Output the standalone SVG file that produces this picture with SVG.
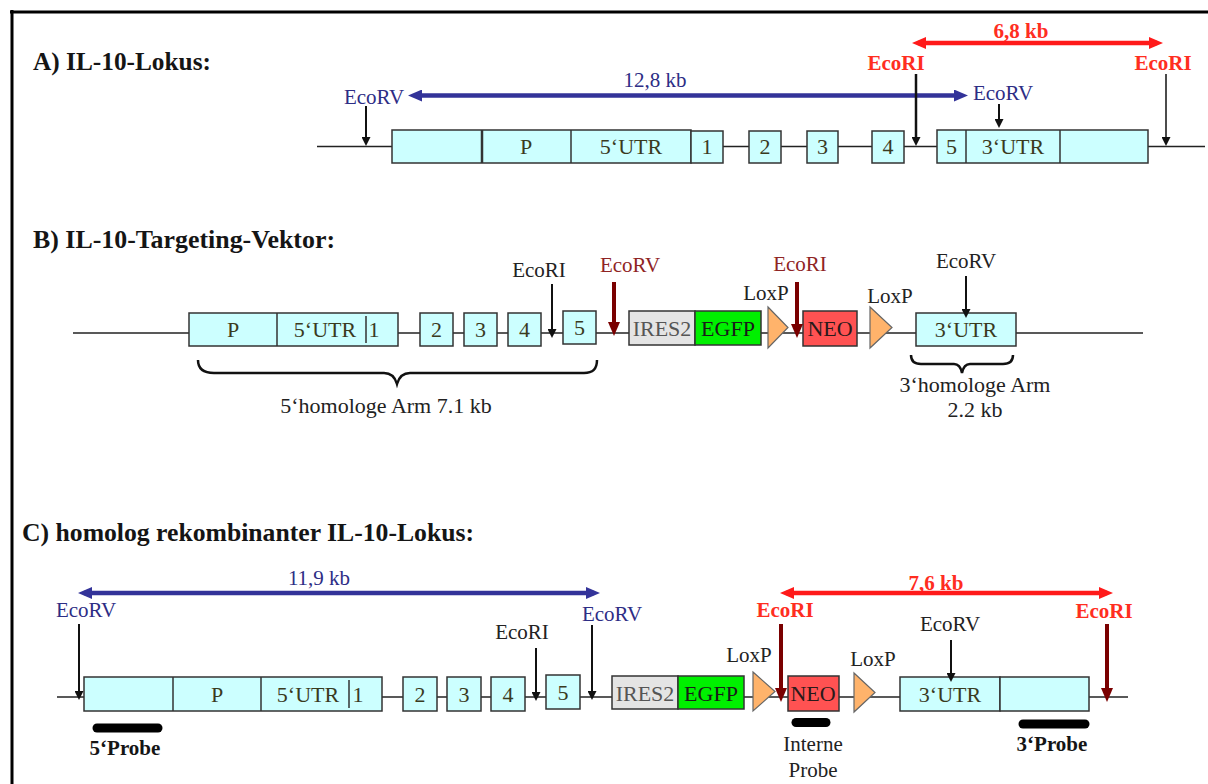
<svg xmlns="http://www.w3.org/2000/svg" width="1208" height="784" viewBox="0 0 1208 784">
<defs>
<style>
text{font-family:"Liberation Serif","Times New Roman",serif;}
.t{font-size:25px;font-weight:bold;fill:#151515;}
.bl{font-size:22px;fill:#3a3a1e;text-anchor:middle;}
.lb{font-size:21px;text-anchor:middle;}
.navy{fill:#2d2d85;}
.blk{fill:#222;}
.red{fill:#ff2e1f;font-weight:bold;}
.mar{fill:#8f2424;}
.pb{font-weight:bold;fill:#151515;}
.box{fill:#ccffff;stroke:#333;stroke-width:1.5;}
.ires{fill:#e4e4e4;stroke:#333;stroke-width:1.5;}
.egfp{fill:#00f000;stroke:#333;stroke-width:1.5;}
.neo{fill:#ff5252;stroke:#333;stroke-width:1.5;}
.lox{fill:#ffb36b;stroke:#666;stroke-width:1.2;}
.dna{stroke:#222;stroke-width:1.5;fill:none;}
.dv{stroke:#333;stroke-width:1.5;}
.cut{stroke:#111;stroke-width:2;marker-end:url(#hb);}
.cutm{stroke:#7a0000;stroke-width:4;marker-end:url(#hm);}
.brace{fill:none;stroke:#111;stroke-width:2.5;}
.probe{stroke:#000;stroke-width:9;stroke-linecap:round;}
.blue{stroke:#333399;stroke-width:4.5;marker-start:url(#hbl);marker-end:url(#hbl);}
.redar{stroke:#ff1a1a;stroke-width:4.5;marker-start:url(#hr);marker-end:url(#hr);}
.frame{stroke:#000;stroke-width:3;fill:none;}
</style>
<marker id="hb" viewBox="0 0 9 9" refX="5" refY="4.5" markerWidth="9" markerHeight="9" markerUnits="userSpaceOnUse" orient="auto"><path d="M0,0 L9,4.5 L0,9 z" fill="#111"/></marker>
<marker id="hm" viewBox="0 0 14 12" refX="7" refY="6" markerWidth="14" markerHeight="12" markerUnits="userSpaceOnUse" orient="auto"><path d="M0,0 L14,6 L0,12 z" fill="#7a0000"/></marker>
<marker id="hbl" viewBox="0 0 14 12" refX="8" refY="6" markerWidth="14" markerHeight="12" markerUnits="userSpaceOnUse" orient="auto-start-reverse"><path d="M0,0 L14,6 L0,12 z" fill="#333399"/></marker>
<marker id="hr" viewBox="0 0 14 12" refX="8" refY="6" markerWidth="14" markerHeight="12" markerUnits="userSpaceOnUse" orient="auto-start-reverse"><path d="M0,0 L14,6 L0,12 z" fill="#ff1a1a"/></marker>
</defs>

<path class="frame" d="M10,12 H1208 M12,10 V784"/>

<g id="titles">
<text class="t" x="33" y="70" textLength="178" lengthAdjust="spacingAndGlyphs">A) IL-10-Lokus:</text>
<text class="t" x="33" y="248" textLength="302" lengthAdjust="spacingAndGlyphs">B) IL-10-Targeting-Vektor:</text>
<text class="t" x="22" y="541" textLength="452" lengthAdjust="spacingAndGlyphs">C) homolog rekombinanter IL-10-Lokus:</text>
</g>

<!-- Section A -->
<g id="a-dna"><path class="dna" d="M317,146.5 H1205"/></g>
<g id="a-box-prom">
<rect class="box" x="392" y="130" width="299" height="33"/>
<line class="dv" x1="482" y1="130" x2="482" y2="163" style="stroke-width:2.5"/>
<line class="dv" x1="571" y1="130" x2="571" y2="163"/>
<text class="bl" x="526" y="153.5">P</text>
<text class="bl" x="631" y="153.5">5‘UTR</text>
</g>
<g id="a-ex1"><rect class="box" x="691" y="131" width="32" height="32"/><text class="bl" x="707" y="154">1</text></g>
<g id="a-ex2"><rect class="box" x="749" y="131" width="32" height="32"/><text class="bl" x="765" y="154">2</text></g>
<g id="a-ex3"><rect class="box" x="807" y="131" width="31" height="32"/><text class="bl" x="822.5" y="154">3</text></g>
<g id="a-ex4"><rect class="box" x="872" y="131" width="32" height="32"/><text class="bl" x="888" y="154">4</text></g>
<g id="a-ex5">
<rect class="box" x="937" y="130" width="211" height="33"/>
<line class="dv" x1="966" y1="130" x2="966" y2="163"/>
<line class="dv" x1="1060" y1="130" x2="1060" y2="163"/>
<text class="bl" x="951.5" y="153.5">5</text>
<text class="bl" x="1013" y="153.5">3‘UTR</text>
</g>
<g id="a-labels">
<text class="lb navy" x="374" y="104">EcoRV</text>
<text class="lb navy" x="655" y="87">12,8 kb</text>
<text class="lb navy" x="1003" y="100">EcoRV</text>
<text class="lb red" x="1021" y="38">6,8 kb</text>
<text class="lb red" x="896" y="70">EcoRI</text>
<text class="lb red" x="1163" y="70">EcoRI</text>
</g>
<g id="a-connectors">
<line class="cut" x1="366" y1="106" x2="366" y2="142"/>
<line class="blue" x1="414" y1="95.5" x2="962" y2="95.5"/>
<line class="cut" x1="999" y1="104" x2="999" y2="124"/>
<line class="redar" x1="918" y1="43" x2="1157" y2="43"/>
<line class="cut" x1="916" y1="74" x2="916" y2="142" style="stroke-width:2.5"/>
<line class="cut" x1="1166" y1="74" x2="1166" y2="142" style="stroke-width:1.5"/>
</g>

<!-- Section B -->
<g id="b-dna"><path class="dna" d="M73,333 H1143"/></g>
<g id="b-box-prom">
<rect class="box" x="189" y="313" width="209" height="33"/>
<line class="dv" x1="277" y1="313" x2="277" y2="346"/>
<line class="dv" x1="366" y1="316" x2="366" y2="343"/>
<text class="bl" x="233" y="337">P</text>
<text class="bl" x="325" y="337">5‘UTR</text>
<text class="bl" x="374" y="337">1</text>
</g>
<g id="b-ex2"><rect class="box" x="420" y="313" width="33" height="33"/><text class="bl" x="436.5" y="337">2</text></g>
<g id="b-ex3"><rect class="box" x="464" y="313" width="33" height="33"/><text class="bl" x="480.5" y="337">3</text></g>
<g id="b-ex4"><rect class="box" x="508" y="313" width="33" height="33"/><text class="bl" x="524.5" y="337">4</text></g>
<g id="b-ex5"><rect class="box" x="563" y="311" width="33" height="33"/><text class="bl" x="579.5" y="335">5</text></g>
<g id="b-ires"><rect class="ires" x="629" y="311" width="66" height="34"/><text class="bl" x="662" y="336" style="fill:#555">IRES2</text></g>
<g id="b-egfp"><rect class="egfp" x="695" y="311" width="66" height="34"/><text class="bl" x="728" y="336" style="fill:#1a1a1a">EGFP</text></g>
<g id="b-lox1"><polygon class="lox" points="768,307 788,327.5 768,348"/><text class="lb blk" x="766" y="300">LoxP</text></g>
<g id="b-neo"><rect class="neo" x="803" y="311" width="54" height="35"/><text class="bl" x="830" y="336" style="fill:#2a1a1a">NEO</text></g>
<g id="b-lox2"><polygon class="lox" points="870,307 892,327.5 870,348"/><text class="lb blk" x="890" y="303">LoxP</text></g>
<g id="b-utr3"><rect class="box" x="916" y="313" width="100" height="33"/><text class="bl" x="966" y="337">3‘UTR</text></g>
<g id="b-labels">
<text class="lb blk" x="539" y="277">EcoRI</text>
<text class="lb mar" x="630" y="272">EcoRV</text>
<text class="lb mar" x="800" y="271">EcoRI</text>
<text class="lb blk" x="966" y="268">EcoRV</text>
</g>
<g id="b-arm5">
<path class="brace" d="M198,360 C198,369 203,373 214,373 L384,373 C391,373 395,377 397,384 C399,377 403,373 410,373 L584,373 C593,373 597,369 597,360"/>
<text class="lb blk" x="386" y="413" style="font-size:22px">5‘homologe Arm 7.1 kb</text>
</g>
<g id="b-arm3">
<path class="brace" d="M911,355 C911,361 914,364 921,364 L954,364 C959,364 961,368 962,373 C963,368 965,364 970,364 L1003,364 C1010,364 1013,361 1013,355"/>
<text class="lb blk" x="975" y="392" style="font-size:22px">3‘homologe Arm</text>
<text class="lb blk" x="975" y="417" style="font-size:22px">2.2 kb</text>
</g>
<g id="b-connectors">
<line class="cut" x1="552" y1="284" x2="552" y2="334"/>
<line class="cutm" x1="614" y1="282" x2="614" y2="329"/>
<line class="cutm" x1="797" y1="282" x2="797" y2="331"/>
<line class="cut" x1="966" y1="276" x2="966" y2="314"/>
</g>

<!-- Section C -->
<g id="c-dna"><path class="dna" d="M57,697 H1128"/></g>
<g id="c-box-prom">
<rect class="box" x="84" y="677" width="298" height="34"/>
<line class="dv" x1="173" y1="677" x2="173" y2="711"/>
<line class="dv" x1="261" y1="677" x2="261" y2="711"/>
<line class="dv" x1="349" y1="680" x2="349" y2="708"/>
<text class="bl" x="217" y="701.5">P</text>
<text class="bl" x="308" y="701.5">5‘UTR</text>
<text class="bl" x="358" y="701.5">1</text>
</g>
<g id="c-ex2"><rect class="box" x="403" y="677" width="34" height="34"/><text class="bl" x="420" y="701.5">2</text></g>
<g id="c-ex3"><rect class="box" x="447" y="677" width="34" height="34"/><text class="bl" x="464" y="701.5">3</text></g>
<g id="c-ex4"><rect class="box" x="491" y="677" width="34" height="34"/><text class="bl" x="508" y="701.5">4</text></g>
<g id="c-ex5"><rect class="box" x="546" y="675" width="34" height="34"/><text class="bl" x="563" y="699.5">5</text></g>
<g id="c-ires"><rect class="ires" x="612" y="676" width="66" height="33"/><text class="bl" x="645" y="700.5" style="fill:#555">IRES2</text></g>
<g id="c-egfp"><rect class="egfp" x="678" y="676" width="66" height="33"/><text class="bl" x="711" y="700.5" style="fill:#1a1a1a">EGFP</text></g>
<g id="c-lox1"><polygon class="lox" points="753,672 775,691.5 753,711"/><text class="lb blk" x="749" y="662">LoxP</text></g>
<g id="c-neo"><rect class="neo" x="788" y="676" width="51" height="35"/><text class="bl" x="813" y="701" style="fill:#2a1a1a">NEO</text></g>
<g id="c-lox2"><polygon class="lox" points="854,673 875,692.5 854,712"/><text class="lb blk" x="873" y="666">LoxP</text></g>
<g id="c-utr3"><rect class="box" x="900" y="677" width="100" height="34"/><text class="bl" x="950" y="701.5">3‘UTR</text></g>
<g id="c-tail"><rect class="box" x="1000" y="677" width="89" height="34"/></g>
<g id="c-probe5"><line class="probe" x1="97" y1="728" x2="158" y2="728"/><text class="lb pb" x="125" y="755">5‘Probe</text></g>
<g id="c-probeint"><line class="probe" x1="796" y1="722.5" x2="826" y2="722.5"/><text class="lb blk" x="813" y="751">Interne</text><text class="lb blk" x="813" y="777">Probe</text></g>
<g id="c-probe3"><line class="probe" x1="1023" y1="724" x2="1085" y2="724"/><text class="lb pb" x="1052" y="751">3‘Probe</text></g>
<g id="c-labels">
<text class="lb navy" x="86" y="617">EcoRV</text>
<text class="lb navy" x="319" y="585">11,9 kb</text>
<text class="lb blk" x="522" y="639">EcoRI</text>
<text class="lb navy" x="612" y="621">EcoRV</text>
<text class="lb red" x="785" y="617">EcoRI</text>
<text class="lb blk" x="950" y="631">EcoRV</text>
<text class="lb red" x="1104" y="618">EcoRI</text>
<text class="lb red" x="936" y="590">7,6 kb</text>
</g>
<g id="c-connectors">
<line class="blue" x1="84" y1="593" x2="594" y2="593"/>
<line class="redar" x1="786" y1="593" x2="1107" y2="593"/>
<line class="cut" x1="79" y1="624" x2="79" y2="696"/>
<line class="cut" x1="536" y1="648" x2="536" y2="697"/>
<line class="cut" x1="592" y1="625" x2="592" y2="696"/>
<line class="cutm" x1="781" y1="624" x2="781" y2="695"/>
<line class="cut" x1="951" y1="640" x2="951" y2="678"/>
<line class="cutm" x1="1107" y1="624" x2="1107" y2="695"/>
</g>
</svg>
